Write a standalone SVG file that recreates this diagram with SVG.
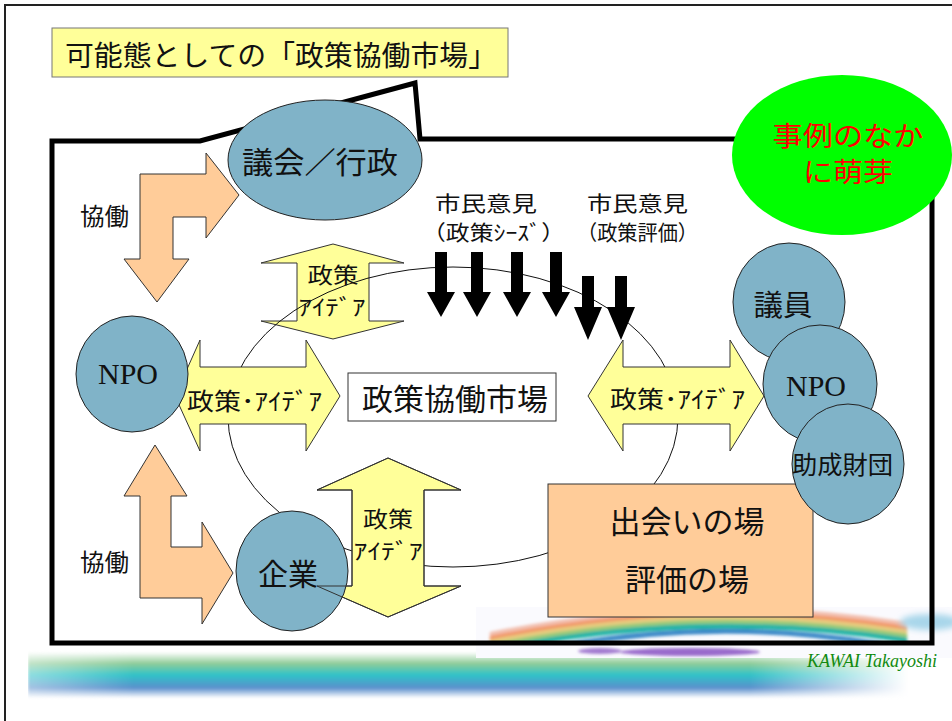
<svg xmlns="http://www.w3.org/2000/svg" width="952" height="721" viewBox="0 0 952 721">
<defs>
<style>
.jp{font-family:"Noto Sans CJK JP","Noto Sans CJK SC",sans-serif;fill:#111}
.en{font-family:"Liberation Serif","Times New Roman",serif;fill:#111}
.node{fill:#80B3C8;stroke:#222;stroke-width:1}
.peach{fill:#FFCC99;stroke:#333;stroke-width:1}
.yel{fill:#FFFF99;stroke:#333;stroke-width:1}
.blk{fill:#000}
</style>
<linearGradient id="bandV" x1="0" y1="0" x2="0" y2="1">
<stop offset="0" stop-color="#ffffff"/>
<stop offset="0.25" stop-color="#8FCC98"/>
<stop offset="0.5" stop-color="#2FC3C8"/>
<stop offset="0.78" stop-color="#5A8FCC"/>
<stop offset="1" stop-color="#ffffff"/>
</linearGradient>
<linearGradient id="bandH" x1="0" y1="0" x2="1" y2="0">
<stop offset="0" stop-color="#fff" stop-opacity="0.55"/>
<stop offset="0.12" stop-color="#fff" stop-opacity="1"/>
<stop offset="0.82" stop-color="#fff" stop-opacity="1"/>
<stop offset="1" stop-color="#fff" stop-opacity="0"/>
</linearGradient>
<mask id="bandMask"><rect x="28" y="650" width="880" height="50" fill="url(#bandH)"/></mask>
<clipPath id="rbClip"><rect x="476" y="607" width="476" height="36"/></clipPath>
<filter id="soft" x="-10%" y="-50%" width="120%" height="200%"><feGaussianBlur stdDeviation="1.6"/></filter>
<filter id="soft2" x="-10%" y="-50%" width="120%" height="200%"><feGaussianBlur stdDeviation="3"/></filter>
</defs>

<!-- page border -->
<path d="M5,721 L5,5 L952,5" fill="none" stroke="#222" stroke-width="2"/>

<!-- bottom decoration band -->
<g mask="url(#bandMask)">
<rect x="28" y="652" width="880" height="46" fill="url(#bandV)" filter="url(#soft)"/>
</g>

<!-- rainbow decoration -->
<g id="rainbow">
<rect x="476" y="607" width="476" height="51" fill="#FAFAFE"/>
<g clip-path="url(#rbClip)">
<g fill="none" stroke-width="5" filter="url(#soft)" stroke-linecap="round">
<path d="M492,634 Q700,592 905,624" stroke="#F2C0B0"/>
<path d="M492,638 Q700,596 905,628" stroke="#F29A6C"/>
<path d="M492,642 Q700,600 905,632" stroke="#E6CC7E"/>
<path d="M492,646 Q700,604 905,636" stroke="#96CA7C"/>
<path d="M492,650 Q700,608 905,640" stroke="#22B4A6"/>
<path d="M520,654 Q700,614 880,644" stroke="#3C8AC8"/>
</g>
</g>
<ellipse cx="690" cy="652" rx="70" ry="4" fill="#9A6ACC" filter="url(#soft)"/>
<ellipse cx="600" cy="651" rx="22" ry="3" fill="#A27AD0" filter="url(#soft)"/>
<ellipse cx="930" cy="622" rx="30" ry="8" fill="#A8D6EA" filter="url(#soft2)"/>
</g>

<!-- callout frame -->
<path d="M52,141 L200,141 L415,83 L420,139 L932,139 L932,643 L52,643 Z" fill="none" stroke="#000" stroke-width="5" stroke-linejoin="miter"/>

<!-- title -->
<g id="title">
<rect x="52" y="28" width="456" height="49" fill="#FFFF99" stroke="#777" stroke-width="1"/>
<text class="jp" x="65" y="66" font-size="28" textLength="432" lengthAdjust="spacingAndGlyphs">可能態としての「政策協働市場」</text>
</g>

<!-- green note -->
<g id="note">
<ellipse cx="842" cy="155" rx="110" ry="80" fill="#00FF00"/>
<text class="jp" x="848" y="146" font-size="27" text-anchor="middle" style="fill:#FF0000" textLength="151" lengthAdjust="spacingAndGlyphs">事例のなか</text>
<text class="jp" x="848" y="182" font-size="27" text-anchor="middle" style="fill:#FF0000" textLength="90" lengthAdjust="spacingAndGlyphs">に萌芽</text>
</g>

<!-- top vertical idea arrow (under the ellipse line) -->
<g id="idea-top">
<path class="yel" d="M333,244 L404,263 L369,263 L369,321 L404,321 L333,339 L261,321 L297,321 L297,263 L261,263 Z"/>
<text class="jp" x="333" y="283" font-size="22" text-anchor="middle" textLength="51" lengthAdjust="spacingAndGlyphs">政策</text>
<text class="jp" x="332" y="315" font-size="22" text-anchor="middle" textLength="67" lengthAdjust="spacingAndGlyphs">ｱｲﾃﾞｱ</text>
</g>

<!-- market ellipse -->
<g id="connectors">
<ellipse cx="453" cy="417" rx="225" ry="150" fill="none" stroke="#111" stroke-width="1"/>
</g>

<!-- gov node -->
<g id="gov">
<ellipse class="node" cx="325" cy="160" rx="97" ry="60"/>
<text class="jp" x="320" y="173" font-size="30" text-anchor="middle" textLength="156" lengthAdjust="spacingAndGlyphs">議会／行政</text>
</g>

<!-- collaboration arrows -->
<g id="collab-top">
<path class="peach" d="M140,174 L206,174 L206,153 L239,195 L206,238 L206,217 L173,217 L173,259 L189,259 L157,302 L124,259 L140,259 Z"/>
<text class="jp" x="80" y="225" font-size="24" textLength="49" lengthAdjust="spacingAndGlyphs">協働</text>
</g>
<g id="collab-bottom">
<path class="peach" d="M140,496 L124,496 L155,445 L187,496 L171,496 L171,547 L202,547 L202,522 L233,573 L202,624 L202,598 L140,598 Z"/>
<text class="jp" x="80" y="571" font-size="24" textLength="49" lengthAdjust="spacingAndGlyphs">協働</text>
</g>

<!-- horizontal idea arrows -->
<g id="idea-left">
<path class="yel" d="M175,396 L200,340 L200,367 L306,367 L306,340 L340,396 L306,451 L306,424 L200,424 L200,451 Z"/>
</g>
<g id="idea-right">
<path class="yel" d="M588,396 L623,340 L623,367 L730,367 L730,340 L764,396 L730,451 L730,424 L623,424 L623,451 Z"/>
<text class="jp" x="610" y="408" font-size="24" textLength="135" lengthAdjust="spacingAndGlyphs">政策･ｱｲﾃﾞｱ</text>
</g>

<!-- bottom vertical idea arrow -->
<g id="idea-bottom">
<path class="yel" d="M388,458 L461,490 L424,490 L424,586 L461,586 L388,617 L317,586 L352,586 L352,490 L317,490 Z"/>
</g>

<!-- NPO left -->
<g id="npo-left">
<ellipse class="node" cx="132" cy="374" rx="56" ry="58"/>
<text class="en" x="128" y="384" font-size="30" text-anchor="middle">NPO</text>
<text class="jp" x="187" y="410" font-size="24" textLength="135" lengthAdjust="spacingAndGlyphs">政策･ｱｲﾃﾞｱ</text>
</g>

<!-- company -->
<g id="company">
<ellipse class="node" cx="292" cy="571" rx="56" ry="60"/>
<path d="M388,458 L461,490 L424,490 L424,586 L461,586 L388,617 L317,586 L352,586 L352,490 L317,490 Z" fill="none" stroke="#333" stroke-width="1"/>
<text class="jp" x="288" y="585" font-size="30" text-anchor="middle" textLength="60" lengthAdjust="spacingAndGlyphs">企業</text>
<text class="jp" x="388" y="527" font-size="22" text-anchor="middle" textLength="50" lengthAdjust="spacingAndGlyphs">政策</text>
<text class="jp" x="388" y="559" font-size="22" text-anchor="middle" textLength="69" lengthAdjust="spacingAndGlyphs">ｱｲﾃﾞｱ</text>
</g>

<!-- market label -->
<g id="market">
<rect x="348" y="373" width="208" height="48" fill="#fff" stroke="#333" stroke-width="1"/>
<text class="jp" x="362" y="410" font-size="30" textLength="186" lengthAdjust="spacingAndGlyphs">政策協働市場</text>
</g>

<!-- meeting place -->
<g id="place">
<rect x="548" y="484" width="265" height="133" fill="#FFCC99" stroke="#333" stroke-width="1"/>
<text class="jp" x="687" y="533" font-size="31" text-anchor="middle" textLength="155" lengthAdjust="spacingAndGlyphs">出会いの場</text>
<text class="jp" x="687" y="591" font-size="31" text-anchor="middle" textLength="124" lengthAdjust="spacingAndGlyphs">評価の場</text>
</g>

<!-- right nodes -->
<g id="giin">
<ellipse class="node" cx="789" cy="302" rx="56" ry="59"/>
<text class="jp" x="783" y="316" font-size="29" text-anchor="middle" textLength="59" lengthAdjust="spacingAndGlyphs">議員</text>
</g>
<g id="npo-right">
<ellipse class="node" cx="820" cy="384" rx="57" ry="59"/>
<text class="en" x="816" y="396" font-size="30" text-anchor="middle">NPO</text>
</g>
<g id="foundation">
<ellipse class="node" cx="848" cy="464" rx="56" ry="60"/>
<text class="jp" x="792" y="474" font-size="25" textLength="101" lengthAdjust="spacingAndGlyphs">助成財団</text>
</g>

<!-- citizen opinions -->
<g id="citizen">
<text class="jp" x="435" y="211" font-size="21" textLength="102" lengthAdjust="spacingAndGlyphs">市民意見</text>
<text class="jp" x="422" y="240" font-size="21" textLength="143" lengthAdjust="spacingAndGlyphs">（政策ｼｰｽﾞ）</text>
<text class="jp" x="587" y="211" font-size="21" textLength="101" lengthAdjust="spacingAndGlyphs">市民意見</text>
<text class="jp" x="577" y="240" font-size="21" textLength="121" lengthAdjust="spacingAndGlyphs">（政策評価）</text>
<g class="blk">
<path d="M435,252 L447,252 L447,292 L455,292 L441,317 L427,292 L435,292 Z"/>
<path d="M471,252 L483,252 L483,292 L491,292 L477,317 L463,292 L471,292 Z"/>
<path d="M511,252 L523,252 L523,292 L531,292 L517,317 L503,292 L511,292 Z"/>
<path d="M550,252 L562,252 L562,292 L570,292 L556,317 L542,292 L550,292 Z"/>
<path d="M582,276 L594,276 L594,307 L602,307 L588,340 L574,307 L582,307 Z"/>
<path d="M615,276 L627,276 L627,307 L635,307 L621,340 L607,307 L615,307 Z"/>
</g>
</g>

<text x="807" y="667" font-family="Liberation Serif, serif" font-style="italic" font-size="18" fill="#118A11">KAWAI Takayoshi</text>
</svg>
